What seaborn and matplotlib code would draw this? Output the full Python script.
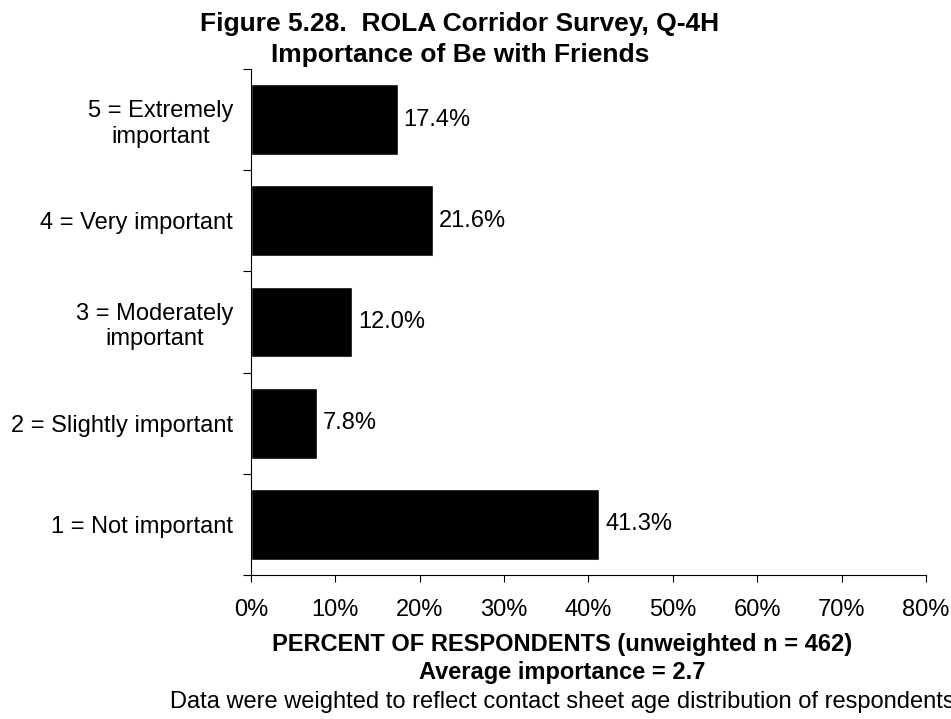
import matplotlib.pyplot as plt
import seaborn as sns
import pandas as pd
from matplotlib.ticker import MultipleLocator, FuncFormatter

categories = ["5 = Extremely\nimportant", "4 = Very important", "3 = Moderately\nimportant",
              "2 = Slightly important", "1 = Not important"]
percents = [17.4, 21.6, 12.0, 7.8, 41.3]

df = pd.DataFrame({"cat": categories, "pct": percents})

sns.set_style("white")
plt.rcParams['font.family'] = ['Liberation Sans', 'DejaVu Sans']
plt.rcParams['text.color'] = 'black'
plt.rcParams['xtick.color'] = 'black'
plt.rcParams['ytick.color'] = 'black'

fig = plt.figure(figsize=(9.51, 7.19), dpi=100)
ax = fig.add_axes([0.2639, 0.2003, 0.7098, 0.7037])

sns.barplot(data=df, x="pct", y="cat", orient="h", color="black", width=0.70,
            saturation=1, ax=ax)

for i, v in enumerate(percents):
    ax.text(v + 0.7, i, f"{v:.1f}%", va="center", ha="left", fontsize=17)

ax.set_xlim(0, 80)
ax.set_ylim(4.5, -0.5)
ax.xaxis.set_major_locator(MultipleLocator(10))
ax.xaxis.set_major_formatter(FuncFormatter(lambda x, p: f"{x:.0f}%"))

# ticks at category boundaries
ax.set_yticks([i - 0.5 for i in range(6)], minor=True)
ax.set_yticks(range(5))
ax.tick_params(axis="y", which="major", left=False, length=0, pad=13, labelsize=17)
ax.tick_params(axis="y", which="minor", left=True, length=6, width=0.8, direction="out")
ax.tick_params(axis="x", which="major", bottom=True, length=5, width=0.8,
               direction="out", pad=12, labelsize=17)
for lab in ax.get_yticklabels():
    lab.set_multialignment("center")

for s in ["top", "right"]:
    ax.spines[s].set_visible(False)
for s in ["left", "bottom"]:
    ax.spines[s].set_color("black")
    ax.spines[s].set_linewidth(0.8)

ax.set_xlabel("")
ax.set_ylabel("")

cx = 0.591
fig.text(0.4837, 0.9666, "Figure 5.28.  ROLA Corridor Survey, Q-4H", ha="center", va="center",
         fontsize=19, fontweight="bold")
fig.text(0.4837, 0.9235, "Importance of Be with Friends", ha="center", va="center",
         fontsize=19, fontweight="bold")
fig.text(cx, 0.103, "PERCENT OF RESPONDENTS (unweighted n = 462)", ha="center", va="center",
         fontsize=17, fontweight="bold")
fig.text(cx, 0.064, "Average importance = 2.7", ha="center", va="center",
         fontsize=17, fontweight="bold")
fig.text(cx, 0.024, "Data were weighted to reflect contact sheet age distribution of respondents",
         ha="center", va="center", fontsize=17)

fig.savefig("out.png", dpi=100)
